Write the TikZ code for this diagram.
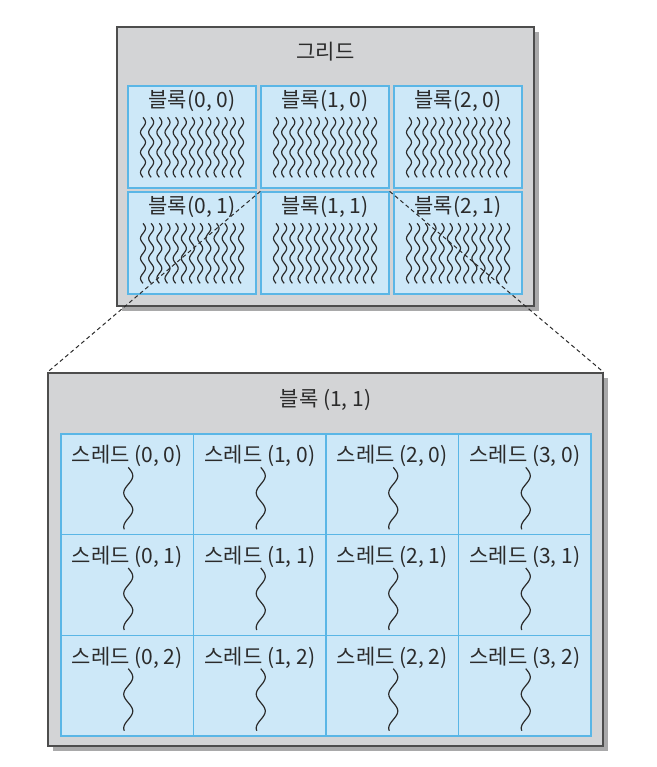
\documentclass[tikz,border=0pt]{standalone}
\usepackage{fontspec}
\setmainfont{Noto Sans CJK KR}
\usetikzlibrary{shadows}
\definecolor{boxgray}{HTML}{D3D4D6}
\definecolor{shadowgray}{HTML}{A9A9AA}
\definecolor{edgegray}{HTML}{4D4D4D}
\definecolor{cellblue}{HTML}{CDE8F8}
\definecolor{lineblue}{HTML}{5AB6E6}
\definecolor{inkgray}{HTML}{2B2B2B}
\begin{document}
\begin{tikzpicture}[
            x=1pt, y=-1pt,
            frame/.style={draw=edgegray, line width=1.4pt, fill=boxgray, inner sep=0pt,
                general shadow={fill=shadowgray, shadow xshift=5pt, shadow yshift=-5pt}},
            cell/.style={draw=lineblue, line width=1.3pt, fill=cellblue, inner sep=0pt},
            txt/.style={text=inkgray, inner sep=0pt, font=\fontsize{21}{24}\selectfont},
            wave/.style={draw=inkgray, line width=1.2pt}
        ]
            \useasboundingbox (0,0) rectangle (656,767);
            \node[frame, minimum width=417pt, minimum height=279pt] (grid) at (325.5,166.5) {};
            \node[txt] (gridtitle) at (325.5,52) {그리드};
            \foreach \i in {0,1,2}
                \foreach \j in {0,1} {
                    \node[cell, minimum width=128pt, minimum height=102pt] (blk-\i-\j) at ({192+133*\i},{137+106*\j}) {};
                    \node[txt] (blktxt-\i-\j) at ([yshift=-16pt]blk-\i-\j.north) {블록(\i, \j)};
                    \foreach \k in {0,...,12}
                        \draw[wave, shift={(blk-\i-\j.north)}] plot[domain=0:60, samples=40, smooth] ({-49+8.17*\k+2.5*sin(18*\x)},{32+\x});
                };
            \node[frame, minimum width=555pt, minimum height=373pt] (blkbox) at (325.5,559.5) {};
            \node[txt] (blkboxtitle) at (325.5,400) {블록 (1, 1)};
            \foreach \i in {0,...,3}
                \foreach \j in {0,1,2} {
                    \node[cell, minimum width=132.5pt, minimum height=100.67pt] (thr-\i-\j) at ({127.25+132.5*\i},{484.33+100.67*\j}) {};
                    \node[txt] (thrtxt-\i-\j) at ([yshift=-23pt]thr-\i-\j.north) {스레드 (\i, \j)};
                    \draw[wave, shift={(thr-\i-\j.north)}] plot[domain=0:62, samples=40, smooth] ({1+4.5*sin(10.6*\x)},{34+\x});
                };
            % zoom lines from block (1, 1)
            \draw[inkgray, line width=1pt, dash pattern=on 4pt off 3pt] (blk-1-1.north west) -- (blkbox.north west);
            \draw[inkgray, line width=1pt, dash pattern=on 4pt off 3pt] (blk-1-1.north east) -- (blkbox.north east);
        \end{tikzpicture}
\end{document}
